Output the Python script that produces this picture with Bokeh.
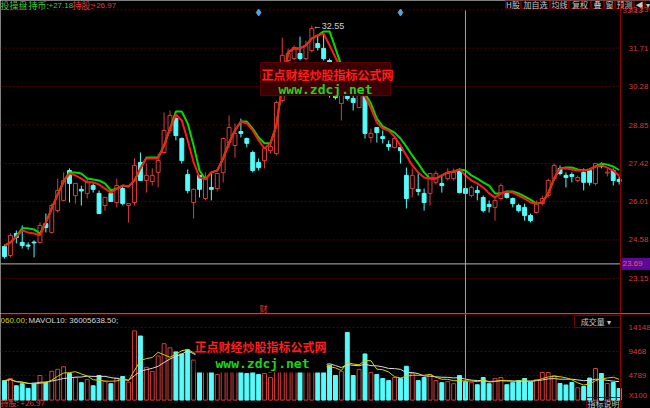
import pandas as pd
from bokeh.plotting import figure
from bokeh.layouts import column
from bokeh.models import Range1d, FixedTicker, Span, Label, ColumnDataSource
from bokeh.core.properties import value
from bokeh.embed import file_html
from bokeh.resources import INLINE

# ---- daily bars ----
opens = [24.34, 24.00, 24.82, 24.49, 24.39, 24.50, 24.49, 25.19, 24.86, 25.67,
         26.05, 27.16, 26.23, 26.46, 26.31, 26.60, 26.31, 25.86, 26.31, 25.97,
         26.49, 25.86, 25.97, 27.46, 26.79, 26.75, 27.09, 27.83, 28.65, 29.09,
         28.35, 27.01, 25.97, 26.98, 26.12, 26.53, 26.49, 27.09, 28.20, 28.09,
         28.61, 28.35, 27.83, 27.46, 27.53, 27.90, 27.79, 29.76, 31.25, 31.32,
         31.51, 31.32, 31.62, 31.88, 31.70, 31.25, 30.02, 29.65, 29.99, 29.84,
         29.50, 30.02, 28.39, 28.76, 28.42, 28.13, 28.02, 28.02, 26.98, 26.49,
         26.46, 26.31, 26.31, 26.72, 26.68, 26.86, 26.86, 27.16, 26.49, 26.23,
         26.42, 26.16, 25.90, 25.79, 26.12, 26.31, 26.12, 25.86, 25.79, 25.49,
         25.60, 25.93, 26.23, 26.86, 27.24, 26.98, 27.01, 26.79, 27.09, 27.16,
         26.68, 27.38, 27.07, 27.16, 26.83]
highs = [24.41, 24.82, 24.93, 25.12, 24.49, 24.56, 25.23, 25.56, 25.93, 26.86,
         27.09, 27.24, 26.68, 26.60, 26.86, 26.68, 26.42, 26.16, 26.34, 26.86,
         26.60, 25.93, 27.61, 27.83, 27.42, 27.24, 27.79, 29.32, 29.39, 29.17,
         28.39, 27.20, 26.49, 26.98, 27.09, 27.09, 27.05, 28.39, 29.21, 28.91,
         29.09, 28.39, 27.90, 27.61, 28.02, 28.17, 29.76, 32.10, 31.70, 31.81,
         32.14, 31.99, 32.55, 32.18, 32.25, 31.32, 30.21, 30.13, 30.06, 29.95,
         30.13, 30.06, 28.72, 28.76, 28.65, 28.28, 28.35, 28.09, 27.27, 27.24,
         27.05, 26.49, 27.05, 27.16, 26.98, 27.24, 27.24, 27.24, 26.60, 26.60,
         26.60, 26.23, 26.05, 26.16, 26.68, 26.34, 26.16, 25.93, 25.93, 25.56,
         26.05, 26.23, 26.86, 27.42, 27.35, 27.09, 27.09, 26.98, 27.24, 27.24,
         27.42, 27.46, 27.24, 27.24, 26.94]
lows = [23.89, 23.93, 24.45, 24.26, 24.22, 23.93, 24.45, 24.86, 24.82, 25.60,
        26.01, 25.97, 25.93, 25.86, 26.12, 26.34, 25.56, 25.67, 26.01, 25.79,
        25.86, 25.23, 25.86, 26.79, 26.34, 26.60, 26.53, 27.79, 28.54, 28.28,
        27.42, 26.31, 25.38, 26.16, 26.05, 26.05, 26.38, 26.72, 27.98, 27.64,
        28.39, 28.02, 27.09, 27.16, 27.24, 27.79, 27.72, 29.69, 31.18, 31.25,
        31.25, 31.25, 31.55, 31.62, 31.25, 29.87, 29.80, 29.02, 29.76, 29.39,
        29.47, 28.35, 28.20, 28.20, 28.17, 27.90, 27.98, 27.42, 25.75, 26.16,
        26.23, 25.67, 25.86, 26.64, 26.34, 26.79, 26.79, 26.31, 26.05, 26.16,
        26.05, 25.60, 25.60, 25.30, 26.05, 26.12, 25.79, 25.60, 25.30, 25.23,
        25.56, 25.86, 26.16, 26.79, 26.98, 26.53, 26.72, 26.72, 26.42, 26.60,
        26.60, 27.24, 26.94, 26.60, 26.64]
closes = [23.96, 24.75, 24.67, 24.37, 24.35, 24.47, 25.12, 25.04, 25.86, 26.42,
          26.79, 26.68, 26.68, 26.40, 26.72, 26.46, 25.56, 26.16, 26.01, 26.60,
          25.93, 25.93, 27.35, 26.79, 26.98, 26.98, 27.53, 28.65, 29.21, 28.46,
          27.53, 26.42, 26.46, 26.46, 26.86, 26.46, 27.05, 28.35, 28.76, 28.54,
          28.54, 28.17, 27.16, 27.27, 27.98, 28.05, 29.69, 31.44, 31.51, 31.73,
          31.32, 31.81, 32.44, 31.73, 31.32, 30.06, 29.87, 29.95, 29.84, 29.69,
          30.06, 28.54, 28.54, 28.57, 28.35, 28.05, 28.35, 27.90, 26.12, 26.98,
          26.38, 25.97, 27.05, 27.05, 26.60, 27.05, 27.09, 26.34, 26.31, 26.53,
          26.34, 25.67, 25.82, 26.05, 26.60, 26.16, 25.93, 25.67, 25.49, 25.30,
          25.93, 26.12, 26.79, 27.35, 27.05, 26.90, 26.94, 26.90, 26.72, 26.72,
          27.42, 27.31, 27.10, 26.79, 26.75]

# ---- trading lines: 持股 (red) and 持币 (green) ----
hold_line = [24.37, 24.49, 24.71, 24.93, 24.86, 24.82, 24.75, 25.23, 25.75, 26.27,
             26.75, 27.05, 26.98, 26.86, 26.72, 26.72, 26.64, 26.49, 26.34, 26.49,
             26.60, 26.57, 26.79, 27.24, 27.61, 27.61, 27.61, 28.09, 28.72, 29.24,
             29.02, 28.28, 27.46, 26.90, 26.83, 27.09, 27.16, 27.61, 28.20, 28.65,
             28.98, 28.91, 28.65, 28.28, 27.98, 28.17, 28.83, 30.32, 31.55, 31.70,
             31.70, 31.81, 32.07, 32.18, 32.25, 31.81, 31.36, 30.95, 30.58, 30.28,
             30.10, 29.91, 29.47, 28.95, 28.72, 28.65, 28.42, 28.09, 27.72, 27.35,
             27.09, 26.90, 26.86, 26.86, 26.98, 27.09, 27.12, 27.20, 26.98, 26.79,
             26.68, 26.53, 26.31, 26.16, 26.31, 26.38, 26.34, 26.23, 26.12, 25.97,
             25.93, 25.97, 26.31, 26.86, 27.24, 27.24, 27.20, 27.16, 27.16, 27.20,
             27.31, 27.35, 27.27, 27.16, 26.97]
cash_line = [24.37, 24.49, 24.71, 25.01, 25.01, 24.97, 24.82, 25.23, 25.75, 26.27,
             26.75, 27.09, 27.09, 27.05, 26.86, 26.83, 26.79, 26.68, 26.42, 26.49,
             26.60, 26.57, 26.79, 27.24, 27.64, 27.64, 27.64, 28.09, 28.72, 29.35,
             29.35, 28.91, 28.09, 27.16, 26.83, 27.09, 27.16, 27.61, 28.20, 28.65,
             28.98, 28.98, 28.72, 28.39, 28.17, 28.17, 28.83, 30.32, 31.55, 31.70,
             31.70, 31.81, 32.07, 32.18, 32.33, 32.33, 31.70, 31.06, 30.66, 30.36,
             30.17, 30.02, 29.65, 29.09, 28.80, 28.69, 28.57, 28.35, 28.05, 27.72,
             27.42, 27.09, 26.86, 26.86, 26.98, 27.09, 27.12, 27.20, 27.16, 26.98,
             26.86, 26.72, 26.60, 26.31, 26.31, 26.38, 26.38, 26.31, 26.20, 26.08,
             25.93, 25.97, 26.31, 26.86, 27.24, 27.27, 27.27, 27.20, 27.16, 27.20,
             27.31, 27.42, 27.38, 27.31, 27.18]

# ---- volume (axis units) ----
volumes = [3800, 4200, 2800, 3200, 2300, 3300, 4800, 3500, 5600, 6000,
           6500, 5200, 4400, 3400, 4000, 2800, 4800, 3600, 3200, 4300,
           4600, 3500, 13500, 12500, 6400, 5600, 8600, 11000, 10200, 9400,
           9000, 9800, 7800, 6800, 6200, 5800, 5000, 8800, 9200, 6800,
           6000, 5200, 7200, 5000, 5200, 4400, 8400, 9600, 7200, 6400,
           6800, 6000, 8200, 5400, 6200, 6800, 4800, 5600, 13200, 4800,
           6000, 9000, 5400, 5000, 4200, 3800, 4400, 4200, 6600, 5200,
           3800, 4400, 5000, 3800, 3400, 3600, 3200, 4800, 3600, 3400,
           3000, 4400, 3200, 4200, 4400, 3000, 3400, 3800, 4200, 3600,
           4000, 5380, 5380, 4800, 3240, 2950, 3430, 2400, 2650, 4296,
           6160, 5190, 3240, 3430, 2259.64]

price_ticks = [23.15, 24.58, 26.01, 27.42, 28.85, 30.28, 31.71, 33.13]
vol_ticks = [900, 4789, 9468, 14148]
vol_labels = {900: "X100", 4789: "4789", 9468: "9468", 14148: "14148"}
cross_index, cross_price = 78, 23.69
event_days = [43, 67]

# ---- page geometry helpers (screen px -> data) ----
X0, DX = 4.0, 5.91
def sx(px):
    return (px - X0) / DX
P_TOP, P_PER_PX = 33.48, 0.03717
def sy(py):
    return P_TOP - py * P_PER_PX
V_BASE, V_PER_PX = 399.6, 195.0
def vy(py):
    return (V_BASE - py) * V_PER_PX

UP, DOWN = "#d83c3c", "#54fcfc"
AXIS_RED, GRID_RED, FRAME_RED = "#d23c3c", "#5a0000", "#8c0000"
CJK = "Noto Sans CJK SC"
NUM = "Liberation Sans"
PH, VH = 313, 95
AXIS_X = 620

n = len(closes)
idx = list(range(n))
is_up = [c >= o for o, c in zip(opens, closes)]
colors = [UP if u else DOWN for u in is_up]
fills = ["black" if u else DOWN for u in is_up]

src = ColumnDataSource(dict(
    x=idx, h=highs, l=lows,
    top=[max(o, c) for o, c in zip(opens, closes)],
    bot=[min(o, c) for o, c in zip(opens, closes)],
    vol=volumes, color=colors, fill=fills))

xr = Range1d(sx(0), sx(650))


def make_panel(height, yr, ticks, overrides):
    fig = figure(width=650, height=height, x_range=xr, y_range=yr,
                 output_backend="svg", toolbar_location=None,
                 x_axis_location=None, y_axis_location="right",
                 min_border_left=0, min_border_right=0,
                 min_border_top=0, min_border_bottom=0,
                 background_fill_color="black", border_fill_color="black",
                 outline_line_color=None)
    fig.xgrid.grid_line_color = None
    fig.ygrid.grid_line_color = None
    ax = fig.yaxis[0]
    ax.fixed_location = sx(AXIS_X)
    ax.ticker = FixedTicker(ticks=ticks)
    ax.major_label_overrides = overrides
    ax.axis_line_color = FRAME_RED
    ax.major_tick_line_color = None
    ax.minor_tick_line_color = None
    ax.major_label_text_color = AXIS_RED
    ax.major_label_text_font = NUM
    ax.major_label_text_font_size = "8px"
    ax.major_label_standoff = 2
    # dotted guide lines across the plotting area only
    fig.segment(x0=[sx(0)] * len(ticks), x1=[sx(AXIS_X)] * len(ticks),
                y0=ticks, y1=ticks, line_color=GRID_RED, line_dash="2 2", line_width=1)
    return fig


def label(fig, h, top, px, py, text, color, size="9px", font=CJK, align="left",
          bold=False):
    fig.add_layout(Label(x=px, y=h - (py - top), x_units="screen", y_units="screen",
                         text=text, text_color=color, text_font_size=size,
                         text_font=font, text_align=align, text_baseline="middle",
                         text_font_style="bold" if bold else "normal"))


def button(fig, conv_y, left, right, top, bottom, text, size="8px"):
    fig.quad(left=sx(left), right=sx(right), top=conv_y(top), bottom=conv_y(bottom),
             fill_color=None, line_color="#6a0000", line_width=1)
    fig.text(x=[sx((left + right) / 2)], y=[conv_y((top + bottom) / 2)], text=[text],
             text_align="center", text_baseline="middle", text_font=value(CJK),
             text_font_size=size, text_color="#c8c8c8")


# ---------------- price panel ----------------
p = make_panel(PH, Range1d(sy(PH), sy(0)), price_ticks,
               {t: f"{t:.2f}" for t in price_ticks})

# the top scale value sits just under the toolbar strip
top_tick = max(price_ticks)
p.text(x=[sx(AXIS_X + 2)], y=[top_tick], text=[f"{top_tick:.2f}"], y_offset=1,
       text_baseline="middle", text_font=value(NUM), text_font_size="8px",
       text_color=AXIS_RED)

p.segment(x0="x", y0="h", x1="x", y1="l", line_color="color", line_width=1, source=src)
p.vbar(x="x", top="top", bottom="bot", width=0.66, fill_color="fill",
       line_color="color", line_width=1, source=src)

p.line(idx, cash_line, line_color="#00dc00", line_width=2)
p.line(idx, hold_line, line_color="#ff1a1a", line_width=2)

imax = highs.index(max(highs))
p.text(x=[imax], y=[highs[imax]], text=[f"\u2190{highs[imax]:.2f}"], x_offset=1,
       text_font=value(NUM), text_font_size="9px", text_color="#d0d0d0",
       text_baseline="middle")

p.scatter(x=event_days, y=[sy(12)] * len(event_days), marker="diamond", size=7,
          fill_color="#4aa8e8", line_color="#4aa8e8")

# watermark
p.quad(left=sx(260), right=sx(390), top=sy(62), bottom=sy(95),
       fill_color="#3a0000", line_color="#5a0000")
p.text(x=[sx(327)], y=[sy(74)], text=["正点财经炒股指标公式网"], text_align="center",
       text_baseline="middle", text_font=value(CJK), text_font_size="12px",
       text_font_style="bold", text_color="#ff1e1e")
p.text(x=[sx(325)], y=[sy(89)], text=["www.zdcj.net"], text_align="center",
       text_baseline="middle", text_font=value("DejaVu Sans Mono"),
       text_font_size="13px", text_font_style="bold", text_color="#1ed21e")

# crosshair
p.segment(x0=[cross_index], x1=[cross_index], y0=[sy(10)], y1=[sy(PH)],
          line_color="#a0a0a0", line_width=1)
p.segment(x0=[sx(0)], x1=[sx(AXIS_X)], y0=[cross_price], y1=[cross_price],
          line_color="#b4b4b4", line_width=1)
p.quad(left=sx(621), right=sx(650), top=cross_price + 6 * P_PER_PX,
       bottom=cross_price - 6 * P_PER_PX, fill_color="#5a0a96", line_color=None)
p.text(x=[sx(622)], y=[cross_price], text=[f"{cross_price:.2f}"], text_baseline="middle",
       text_font=value(NUM), text_font_size="8px", text_color="#ff5050")

# header
label(p, PH, 0, 0, 5, "投操盘", "#3cc83c")
label(p, PH, 0, 28, 5, "持币:", "#3cc83c")
label(p, PH, 0, 48, 5, "+27.18", "#3cc83c", size="8px", font=NUM)
label(p, PH, 0, 72, 5, "持股:", "#e03c3c")
label(p, PH, 0, 91, 5, "+26.97", "#e03c3c", size="8px", font=NUM)
label(p, PH, 0, 259, 308, "财", "#e03c3c", size="8px")

# toolbar buttons
tools = [("H股", 505, 520), ("加自选", 521, 549), ("均线", 550, 568), ("复权", 569, 590),
         ("叠", 591, 603), ("窗", 604, 614), ("预测", 615, 633), ("\u25c0", 634, 644),
         ("\u25be", 645, 650)]
for t, l0, r0 in tools:
    button(p, sy, l0, r0, 0, 8, t)

# ---------------- volume panel ----------------
pv = make_panel(VH, Range1d(vy(PH + VH), vy(PH)), vol_ticks, vol_labels)

pv.vbar(x="x", top="vol", bottom=0, width=0.66, fill_color="fill",
        line_color="color", line_width=1, source=src)
vs = pd.Series(volumes)
pv.line(idx, vs.rolling(10, min_periods=1).mean(), line_color="#d8d8d8", line_width=1)
pv.line(idx, vs.rolling(5, min_periods=1).mean(), line_color="#d2d200", line_width=1)

pv.segment(x0=[cross_index], x1=[cross_index], y0=[vy(PH)], y1=[vy(398)],
           line_color="#a0a0a0", line_width=1)
pv.add_layout(Span(location=vy(PH + 0.5), dimension="width", line_color=FRAME_RED,
                   line_width=1))

pv.quad(left=sx(195), right=sx(326), top=vy(336), bottom=vy(372),
        fill_color="black", line_color=None)
pv.text(x=[sx(260)], y=[vy(346)], text=["正点财经炒股指标公式网"], text_align="center",
        text_baseline="middle", text_font=value(CJK), text_font_size="12px",
        text_font_style="bold", text_color="#ff1e1e")
pv.text(x=[sx(262)], y=[vy(363)], text=["www.zdcj.net"], text_align="center",
        text_baseline="middle", text_font=value("DejaVu Sans Mono"),
        text_font_size="13px", text_font_style="bold", text_color="#1ed21e")

label(pv, VH, PH, 0, 320, "060.00;", "#d2d200", size="8px", font=NUM)
label(pv, VH, PH, 28, 320, "MAVOL10: 36005638.50;", "#d8d8d8", size="8px", font=NUM)
button(pv, vy, 574, 620, 315, 327, "成交量   \u25be")
label(pv, VH, PH, 0, 402, "持股: +26.97", "#e03c3c", size="8px")
button(pv, vy, 586, 620, 397, 408, "指标说明")

layout = column(p, pv, spacing=0)
with open("out.html", "w") as f:
    f.write(file_html(layout, INLINE))
